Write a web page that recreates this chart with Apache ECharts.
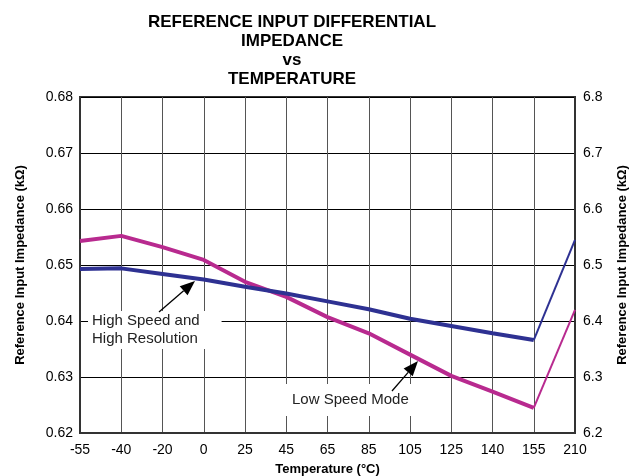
<!DOCTYPE html>
<html>
<head>
<meta charset="utf-8">
<script src="https://cdn.jsdelivr.net/npm/echarts@6/dist/echarts.min.js"></script>
<style>
  html, body { margin: 0; padding: 0; background: #fff; }
  #chart { width: 635px; height: 476px; }
</style>
</head>
<body>
<div id="chart"></div>
<script>
// temperature categories (evenly spaced on the axis)
const temps = ['-55', '-40', '-20', '0', '25', '45', '65', '85', '105', '125', '140', '155', '210'];
// high speed / high resolution, left axis (kΩ)
const highSpeed = [0.6493, 0.6494, 0.6484, 0.6474, 0.6461, 0.6449, 0.6435, 0.6421, 0.6404, 0.6391, 0.6378, 0.6366, 0.6545];
// low speed mode, right axis (kΩ)
const lowSpeed = [6.543, 6.552, 6.532, 6.509, 6.470, 6.443, 6.407, 6.378, 6.340, 6.302, 6.274, 6.245, 6.420];

const FONT = '"Liberation Sans", Arial, sans-serif';
const BLUE = '#2e3192';
const PINK = '#b82a8f';
const LAST = 11; // the 155 -> 210 segment is drawn thinner

// split a series so the last segment gets its own line width
function head(arr) { return arr.map((v, i) => (i <= LAST ? v : '-')); }
function tail(arr) { return arr.map((v, i) => (i >= LAST ? v : '-')); }

function line(name, color, width, yIdx, data, z) {
  return {
    name: name,
    type: 'line',
    yAxisIndex: yIdx,
    symbol: 'none',
    z: z,
    lineStyle: { color: color, width: width },
    data: data,
  };
}

// simple arrow: shaft + filled head
function arrow(x1, y1, x2, y2) {
  const ang = Math.atan2(y2 - y1, x2 - x1);
  const len = 15, half = 6;
  const bx = x2 - len * Math.cos(ang), by = y2 - len * Math.sin(ang);
  const px = -Math.sin(ang) * half, py = Math.cos(ang) * half;
  return [
    { type: 'line', shape: { x1: x1, y1: y1, x2: bx, y2: by }, style: { stroke: '#000', lineWidth: 1.3 }, z: 20 },
    { type: 'polygon', shape: { points: [[x2, y2], [bx + px, by + py], [bx - px, by - py]] }, style: { fill: '#000' }, z: 20 },
  ];
}

const axisName = {
  fontFamily: FONT, fontWeight: 'bold', fontSize: 13, color: '#000',
};
const tickLabel = { fontFamily: FONT, fontSize: 14, color: '#000' };

const chart = echarts.init(document.getElementById('chart'));
chart.setOption({
  backgroundColor: '#fff',
  animation: false,
  title: {
    text: 'REFERENCE INPUT DIFFERENTIAL\nIMPEDANCE\nvs\nTEMPERATURE',
    left: 287,
    top: 8,
    textAlign: 'center',
    textStyle: {
      fontFamily: FONT, fontWeight: 'bold', fontSize: 17, lineHeight: 19, color: '#000',
    },
  },
  grid: {
    left: 80, right: 60, top: 97, bottom: 43,
    outerBoundsMode: 'none',
    show: true, borderColor: '#333', borderWidth: 2,
  },
  xAxis: {
    type: 'category',
    data: temps,
    boundaryGap: false,
    name: 'Temperature (°C)',
    nameLocation: 'middle',
    nameGap: 30,
    nameTextStyle: axisName,
    axisLine: { lineStyle: { color: '#333', width: 2 } },
    axisTick: { show: false },
    axisLabel: Object.assign({ interval: 0, margin: 10 }, tickLabel),
    splitLine: { show: true, lineStyle: { color: '#555', width: 1 } },
  },
  yAxis: [
    {
      type: 'value',
      min: 0.62, max: 0.68, interval: 0.01,
      name: 'Reference Input Impedance (kΩ)',
      nameLocation: 'middle',
      nameGap: 53,
      nameTextStyle: axisName,
      axisLine: { show: true, lineStyle: { color: '#333', width: 2 } },
      axisTick: { show: false },
      axisLabel: Object.assign({ margin: 7, formatter: (v) => v.toFixed(2) }, tickLabel),
      splitLine: { show: true, lineStyle: { color: '#000', width: 1 } },
    },
    {
      type: 'value',
      position: 'right',
      min: 6.2, max: 6.8, interval: 0.1,
      name: 'Reference Input Impedance (kΩ)',
      nameLocation: 'middle',
      nameGap: 41,
      nameRotate: 90,
      nameTextStyle: axisName,
      axisLine: { show: true, lineStyle: { color: '#333', width: 2 } },
      axisTick: { show: false },
      axisLabel: Object.assign({ margin: 8, formatter: (v) => v.toFixed(1) }, tickLabel),
      splitLine: { show: false },
    },
  ],
  series: [
    line('Low Speed Mode', PINK, 4, 1, head(lowSpeed), 3),
    line('Low Speed Mode tail', PINK, 2, 1, tail(lowSpeed), 3),
    line('High Speed and High Resolution', BLUE, 4, 0, head(highSpeed), 4),
    line('High Speed tail', BLUE, 2, 0, tail(highSpeed), 4),
  ],
  graphic: [
    {
      type: 'text', left: 88, top: 311, z: 15,
      style: {
        text: 'High Speed and\nHigh Resolution',
        fontFamily: FONT, fontSize: 15, lineHeight: 18, fill: '#222',
        backgroundColor: '#fff', padding: [1, 22, 1, 4],
      },
    },
    {
      type: 'text', left: 286, top: 384, z: 15,
      style: {
        text: 'Low Speed Mode',
        fontFamily: FONT, fontSize: 15, lineHeight: 30, fill: '#222',
        backgroundColor: '#fff', padding: [1, 4, 1, 6],
      },
    },
  ].concat(arrow(159, 312, 195, 281), arrow(392, 391, 418, 361)),
});
</script>
</body>
</html>
